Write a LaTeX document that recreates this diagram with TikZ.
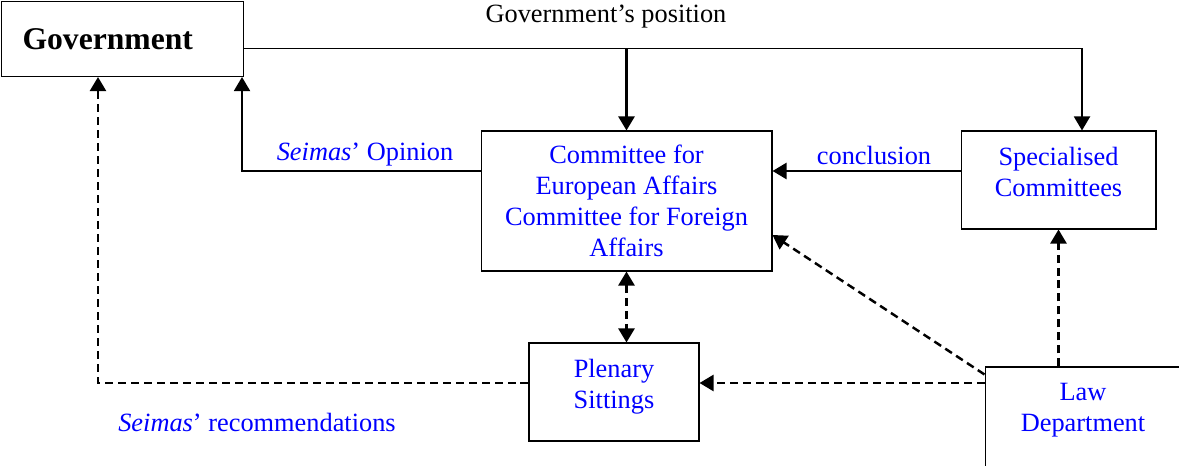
\documentclass[tikz,border=0pt]{standalone}
\usepackage{fontspec}
\setmainfont{Liberation Serif}
\usetikzlibrary{arrows.meta}

\tikzset{
	organ/.style = {draw, line width = 0.6pt, align = center, text = blue, font = \fontsize{15}{17.6}\selectfont},
	inside/.style = {align = center, text = blue, font = \fontsize{15}{17.6}\selectfont},
	note/.style = {text = blue, font = \fontsize{15}{17.6}\selectfont},
	solidarrow/.style = {line width = 1.4pt, ->},
	dasharrow/.style = {solidarrow, dash pattern = on 0.16cm off 0.1cm},
}

\begin{document}
\begin{tikzpicture} [x = 0.02cm, y = -0.02cm, > = {Triangle[length = 0.28cm, width = 0.32cm]}]
	\useasboundingbox (0, 0) rectangle (1179, 466) ;
	
	\node [organ, anchor = north west, text width = 4cm, inner xsep = 0.42cm, minimum height = 1.5cm, align = left, text = black, font = \fontsize{18}{21}\selectfont\bfseries] (gov) at (1, 1) {Government} ;
	\node [organ, minimum width = 5.82cm, minimum height = 2.8cm] (com) at (626.5, 201) {Committee for\\European Affairs\\Committee for Foreign\\Affairs} ;
	\node [organ, minimum width = 3.9cm, minimum height = 1.96cm, label = {[inside, yshift = 0.16cm] center:{Specialised\\Committees}}] (spec) at (1058.5, 180) {} ;
	\node [organ, minimum width = 3.4cm, minimum height = 1.96cm, label = {[inside, yshift = 0.11cm] center:{Plenary\\Sittings}}] (plen) at (614, 392) {} ;
	\node [organ, minimum width = 3.92cm, minimum height = 2cm, label = {[inside, yshift = 0.13cm] center:{Law\\Department}}] (law) at (1083, 417) {} ;
	
	\node [font = \fontsize{15}{17.6}\selectfont] (gpos) at (606, 17) {Government’s position} ;
	\node [note] (opin) at (365, 155) {\textit{Seimas}’ Opinion} ;
	\node [note] (concl) at (874, 155) {conclusion} ;
	\node [note] (recom) at (257, 422) {\textit{Seimas}’ recommendations} ;
	
	\coordinate (govline) at ([yshift = -0.19cm] gov.east) ;
	\draw [solidarrow, line width = 1.1pt] (govline) -| ([xshift = 0.47cm] spec.north) ;
	\draw [solidarrow] (govline -| com.north) -- (com.north) ;
	
	\coordinate (opinline) at ([yshift = 0.6cm] com.west) ;
	\draw [solidarrow, line width = 1.1pt] (opinline) -| ([xshift = -0.04cm] gov.south east) ;
	
	\coordinate (conline) at ([yshift = 0.18cm] spec.west) ;
	\draw [solidarrow] (conline) -- (conline -| com.east) ;
	
	\draw [dasharrow, <->] (com.south) -- (com.south |- plen.north) ;
	
	\coordinate (plenline) at ([yshift = 0.18cm] plen.east) ;
	\draw [dasharrow] (plenline -| law.west) -- (plenline) ;
	\draw [dasharrow] ([yshift = -0.16cm] law.north west) -- ([yshift = -0.68cm] com.east) ;
	\draw [dasharrow] (spec.south |- law.north) -- (spec.south) ;
	\draw [dasharrow] (plenline -| plen.west) -| ([xshift = 1.94cm] gov.south west) ;
	
\end{tikzpicture}
\end{document}
